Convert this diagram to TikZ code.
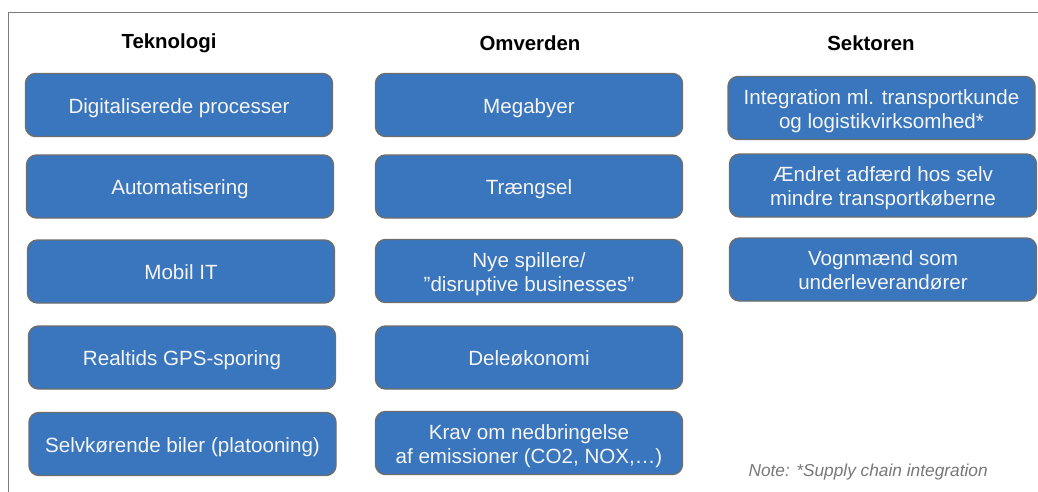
\documentclass[tikz,border=0pt]{standalone}
\usepackage{fontspec}
\setmainfont{Liberation Sans}
\definecolor{boxblue}{RGB}{58,118,190}
\definecolor{boxedge}{RGB}{110,110,110}
\definecolor{framegray}{RGB}{125,125,125}
\definecolor{notegray}{RGB}{120,120,120}
% struts on the first and last line fix where the text sits inside each box
\newcommand\topstrut{\rule{0pt}{21.5pt}}
\newcommand\botstrut{\rule[-5pt]{0pt}{0pt}}
\begin{document}
\begin{tikzpicture}[x=1pt,y=-1pt,
  itembox/.style={draw=boxedge, line width=1.4pt, fill=boxblue, rounded corners=10pt,
    minimum width=307pt, minimum height=63pt, align=center, text=white!96!black,
    font=\fontsize{20.6}{24}\selectfont, inner sep=0pt},
  header/.style={font=\fontsize{20.4}{24}\selectfont\bfseries, text=black},
  note/.style={font=\fontsize{17.3}{20}\selectfont\itshape, text=notegray, anchor=west}]
\useasboundingbox (0,0) rectangle (1038,492);
\fill[white] (0,0) rectangle (1038,492);
% outer frame (top and left edges only show)
\draw[framegray, line width=1.3pt] (8.5,492) -- (8.5,12.5) -- (1038,12.5);

% column headers
\node[header] (hT) at (169,43) {Teknologi};
\node[header] (hO) at (530,43) {Omverden};
\node[header] (hS) at (871,43) {Sektoren};

% Teknologi
\node[itembox] (t1) at (179,105) {\topstrut Digitaliserede processer\botstrut};
\node[itembox] (t2) at (180,186.5) {\topstrut Automatisering\botstrut};
\node[itembox] (t3) at (181,271.5) {\topstrut Mobil IT\botstrut};
\node[itembox] (t4) at (182,357.5) {\topstrut Realtids GPS-sporing\botstrut};
\node[itembox] (t5) at (182.5,444) {\topstrut Selvkørende biler (platooning)\botstrut};

% Omverden
\node[itembox] (o1) at (529,105) {\topstrut Megabyer\botstrut};
\node[itembox] (o2) at (529,186.5) {\topstrut Trængsel\botstrut};
\node[itembox] (o3) at (529,271) {\topstrut Nye spillere/\\”disruptive businesses”\botstrut};
\node[itembox] (o4) at (529,357.5) {\topstrut Deleøkonomi\botstrut};
\node[itembox] (o5) at (529,443) {\topstrut Krav om nedbringelse\\af emissioner (CO2, NOX,…)\botstrut};

% Sektoren
\node[itembox] (s1) at (881.5,108) {\topstrut Integration ml. transportkunde\\og logistikvirksomhed*\botstrut};
\node[itembox] (s2) at (883,185.5) {\topstrut Ændret adfærd hos selv\\mindre transportkøberne\botstrut};
\node[itembox] (s3) at (883,269.5) {\topstrut Vognmænd som\\underleverandører\botstrut};

% footnote
\node[note] (nt) at (745,472) {Note: *Supply chain integration};
\end{tikzpicture}
\end{document}
